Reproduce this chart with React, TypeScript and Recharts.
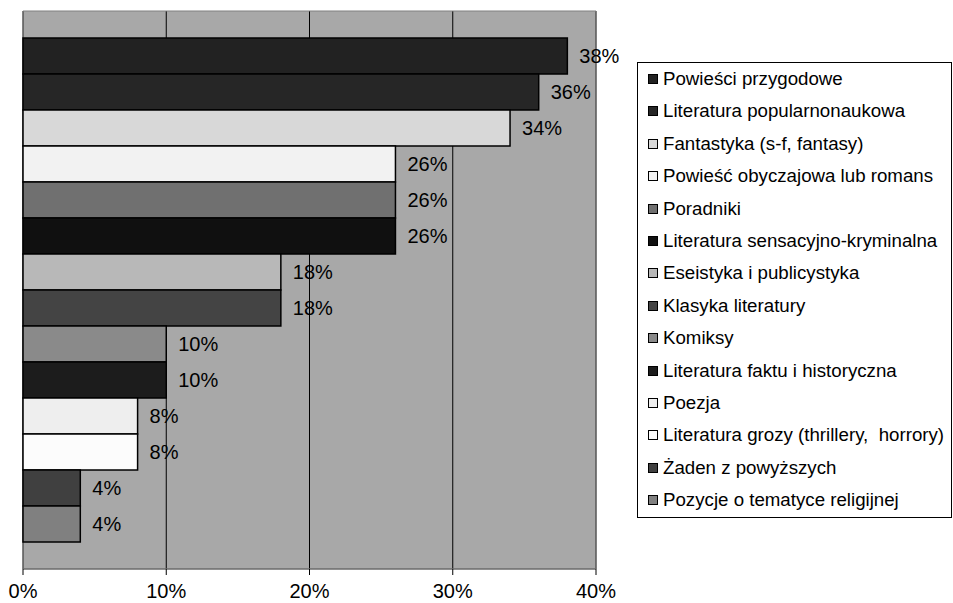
import React from 'react';
import { BarChart, Bar, XAxis, YAxis, CartesianGrid, LabelList, ReferenceArea } from 'recharts';

const kategorie = [
  'Powieści przygodowe',
  'Literatura popularnonaukowa',
  'Fantastyka (s-f, fantasy)',
  'Powieść obyczajowa lub romans',
  'Poradniki',
  'Literatura sensacyjno-kryminalna',
  'Eseistyka i publicystyka',
  'Klasyka literatury',
  'Komiksy',
  'Literatura faktu i historyczna',
  'Poezja',
  'Literatura grozy (thrillery,  horrory)',
  'Żaden z powyższych',
  'Pozycje o tematyce religijnej',
];

const wartosci = [0.38, 0.36, 0.34, 0.26, 0.26, 0.26, 0.18, 0.18, 0.1, 0.1, 0.08, 0.08, 0.04, 0.04];

const kolory = [
  '#222222', '#262626', '#d8d8d8', '#f2f2f2', '#707070', '#101010', '#b8b8b8',
  '#444444', '#8a8a8a', '#1c1c1c', '#eeeeee', '#fcfcfc', '#404040', '#808080',
];

const osTicki = [0, 0.1, 0.2, 0.3, 0.4];

const FONT = '"Liberation Sans", Arial, sans-serif';

const wiersz: Record<string, number | string> = { name: 'wszystkie' };
wartosci.forEach((v, i) => {
  wiersz[`s${i}`] = v;
});
const dane = [wiersz];

const procent = (v: number) => `${Math.round(Number(v) * 100)}%`;

function Legenda() {
  return (
    <div
      style={{
        position: 'absolute',
        left: 637,
        top: 62,
        width: 315,
        height: 456,
        border: '1px solid #000',
        background: '#fff',
        fontFamily: FONT,
        fontSize: 18.7,
        color: '#000',
        boxSizing: 'border-box',
        paddingTop: 0,
      }}
    >
      {kategorie.map((k, i) => (
        <div key={k} style={{ position: 'relative', height: 32.4, lineHeight: '32.4px', whiteSpace: 'pre' }}>
          <span
            style={{
              position: 'absolute',
              left: 10,
              top: 11,
              width: 8,
              height: 8,
              border: '1px solid #000',
              background: kolory[i],
            }}
          />
          <span style={{ position: 'absolute', left: 25 }}>{k}</span>
        </div>
      ))}
    </div>
  );
}

export default function App() {
  return (
    <div style={{ position: 'absolute', left: 0, top: 0, width: 953, height: 603, background: '#fff' }}>
      <BarChart
        width={953}
        height={603}
        data={dane}
        layout="vertical"
        margin={{ top: 11, right: 357, left: 23, bottom: 0 }}
        barCategoryGap={27}
        barGap={0}
        style={{ fontFamily: FONT }}
      >
        <CartesianGrid horizontal={false} stroke="#000" fill="#a8a8a8" fillOpacity={1} />
        <ReferenceArea x1={0} x2={0.4} stroke="#808080" strokeWidth={1} fill="none" ifOverflow="visible" />
        <XAxis
          type="number"
          domain={[0, 0.4]}
          ticks={osTicki}
          tickFormatter={procent}
          height={34}
          tickSize={6}
          tickMargin={9}
          axisLine={{ stroke: '#606060' }}
          tickLine={{ stroke: '#000' }}
          tick={{ fill: '#000', fontSize: 20, fontFamily: FONT }}
        />
        <YAxis type="category" dataKey="name" hide />
        {kategorie.map((k, i) => (
          <Bar
            key={k}
            dataKey={`s${i}`}
            name={k}
            fill={kolory[i]}
            stroke="#000"
            strokeWidth={1.5}
            isAnimationActive={false}
          >
            <LabelList
              dataKey={`s${i}`}
              position="right"
              offset={12}
              formatter={procent}
              fill="#000"
              fontSize={20}
              fontFamily={FONT}
            />
          </Bar>
        ))}
      </BarChart>
      <Legenda />
    </div>
  );
}
